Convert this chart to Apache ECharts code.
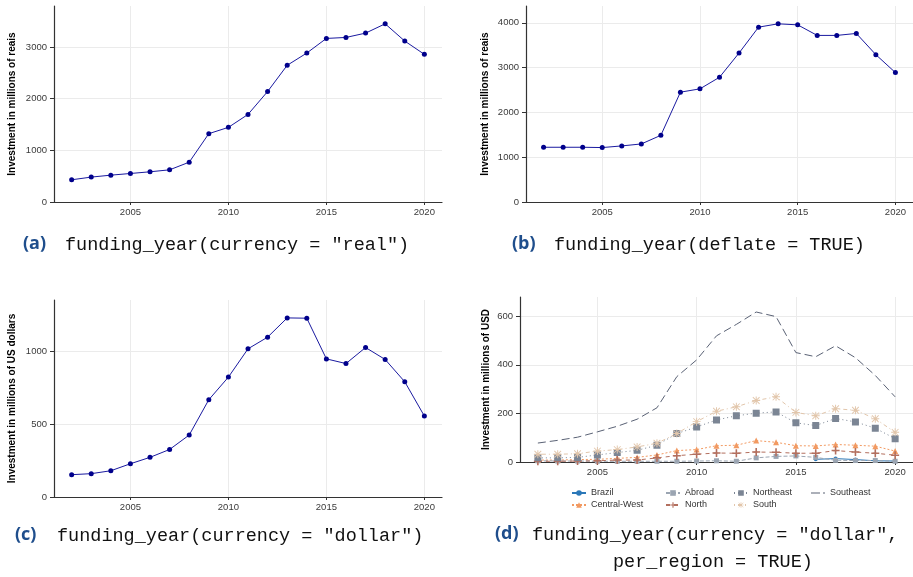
<!DOCTYPE html>
<html>
<head>
<meta charset="utf-8">
<script src="https://cdn.jsdelivr.net/npm/echarts@6/dist/echarts.min.js"></script>
<style>
  html, body { margin: 0; padding: 0; background: #ffffff; }
  #chart { width: 913px; height: 577px; }
</style>
</head>
<body>
<div id="chart"></div>
<script>
// ---- data ----
const years = [2002, 2003, 2004, 2005, 2006, 2007, 2008, 2009, 2010, 2011,
               2012, 2013, 2014, 2015, 2016, 2017, 2018, 2019, 2020];

// (a) nominal, millions of reais
const realReais = [430, 482, 520, 552, 585, 623, 771, 1323, 1445, 1696,
                   2139, 2647, 2884, 3167, 3186, 3270, 3450, 3116, 2859];
// (b) deflated, millions of reais
const deflatedReais = [1222, 1222, 1222, 1215, 1252, 1296, 1489, 2452, 2526, 2785,
                       3326, 3904, 3978, 3955, 3719, 3719, 3763, 3289, 2889];
// (c) millions of US dollars
const dollars = [153, 160, 180, 228, 272, 326, 425, 667, 822, 1016,
                 1096, 1228, 1226, 947, 915, 1025, 943, 790, 555];

// (d) millions of USD per region
const brazil      = [null, null, null, null, null, null, null, null, null, null,
                     null, null, null, null, 11, 14, 10, 5, 4];
const centralWest = [8, 8, 10, 11, 15, 19, 29, 47, 51, 67, 69, 88, 81, 67, 66, 72, 69, 65, 45];
const abroad      = [5, 4, 4, 3, 3, 3, 3, 3, 4, 5, 3, 17, 23, 25, 19, 7, 6, 6, 3];
const north       = [3, 3, 4, 5, 8, 8, 17, 26, 32, 37, 36, 41, 40, 36, 36, 47, 41, 36, 28];
const northeast   = [17, 17, 19, 29, 39, 48, 69, 117, 144, 173, 190, 201, 206, 161, 150, 179, 165, 139, 96];
const south       = [32, 32, 34, 45, 51, 62, 77, 117, 166, 209, 227, 253, 268, 204, 190, 219, 213, 178, 122];
const southeast   = [78, 89, 102, 124, 147, 176, 223, 351, 420, 519, 566, 617, 598, 450, 433, 478, 429, 356, 268];

// tick labels
const xTicks = [2005, 2010, 2015, 2020];
const yTicksA = [0, 1000, 2000, 3000];
const yTicksB = [0, 1000, 2000, 3000, 4000];
const yTicksC = [0, 500, 1000];
const yTicksD = [0, 200, 400, 600];

// ---- helpers ----
const pairs = vals => years.map((y, i) => [y, vals[i]]);
const axisColor = '#333333';
const gridColor = '#ebebeb';
const tickTextColor = '#3a3a3a';
const labelFont = 'Liberation Sans, Arial, sans-serif';
const plain = v => String(v);

function xAxisFor(gridIndex) {
  return {
    type: 'value', gridIndex, min: 2001.1, max: 2020.9,
    axisLine: { show: true, onZero: false, lineStyle: { color: axisColor, width: 1.2 } },
    axisTick: { show: true, length: 3, customValues: xTicks, lineStyle: { color: axisColor } },
    axisLabel: { customValues: xTicks, formatter: plain, fontSize: 9.5, color: tickTextColor, margin: 5, fontFamily: labelFont },
    splitLine: { show: true, lineStyle: { color: gridColor, width: 1 } }
  };
}

function yAxisFor(gridIndex, ticks, name, nameGap) {
  return {
    type: 'value', gridIndex, min: 0, max: v => v.max * 1.1,
    name, nameLocation: 'middle', nameGap,
    nameTextStyle: { fontSize: 10, fontWeight: 'bold', color: '#000', fontFamily: labelFont },
    axisLine: { show: true, onZero: false, lineStyle: { color: axisColor, width: 1.2 } },
    axisTick: { show: true, length: 4, customValues: ticks, lineStyle: { color: axisColor } },
    axisLabel: { customValues: ticks, formatter: plain, fontSize: 9.5, color: tickTextColor, margin: 7, fontFamily: labelFont },
    splitLine: { show: true, lineStyle: { color: gridColor, width: 1 } }
  };
}

function totalSeries(idx, vals) {
  return {
    type: 'line', xAxisIndex: idx, yAxisIndex: idx, data: pairs(vals),
    symbol: 'circle', symbolSize: 5, showSymbol: true,
    lineStyle: { color: '#1a1aa0', width: 1 },
    itemStyle: { color: '#00008b' },
    emphasis: { disabled: true }, animation: false
  };
}

const plusPath = 'path://M4,0H6V4H10V6H6V10H4V6H0V4H4Z';
const squareCrossPath = 'path://M0,0H10V10H0Z M1.2,2.1L2.1,1.2L5,4.1L7.9,1.2L8.8,2.1L5.9,5L8.8,7.9L7.9,8.8L5,5.9L2.1,8.8L1.2,7.9L4.1,5Z';
const asteriskPath = 'path://M4.4,0H5.6V10H4.4Z M0,4.4H10V5.6H0Z M1.2,0.4L9.6,8.8L8.8,9.6L0.4,1.2Z M8.8,0.4L9.6,1.2L1.2,9.6L0.4,8.8Z';
// legend key for the unmarked long-dash line: a long dash followed by a short one
const longDashKey = 'path://M0,3H9V4H0Z M12,3H14V4H12Z';

const regionDefs = [
  { name: 'Brazil',       vals: brazil,      color: '#2b78b8', dash: 'solid',       symbol: 'circle',        size: 4 },
  { name: 'Central-West', vals: centralWest, color: '#f29a62', dash: [2, 2],        symbol: 'triangle',      size: 6 },
  { name: 'Abroad',       vals: abroad,      color: '#9ba5b2', dash: [4, 2],        symbol: 'rect',          size: 5 },
  { name: 'North',        vals: north,       color: '#b36f5e', dash: [4, 4],        symbol: plusPath,        size: 8 },
  { name: 'Northeast',    vals: northeast,   color: '#7b8594', dash: [1, 3],        symbol: squareCrossPath, size: 7 },
  { name: 'South',        vals: south,       color: '#e2c6ab', dash: [1, 3, 4, 3],  symbol: asteriskPath,    size: 8 },
  { name: 'Southeast',    vals: southeast,   color: '#5a6275', dash: [8, 4],        symbol: 'none',          size: 0 }
];

const regionSeries = regionDefs.map(d => ({
  name: d.name, type: 'line', xAxisIndex: 3, yAxisIndex: 3, data: pairs(d.vals),
  symbol: d.symbol, symbolSize: d.size, showSymbol: d.symbol !== 'none',
  connectNulls: false,
  lineStyle: { color: d.color, width: 1, type: d.dash },
  itemStyle: { color: d.color },
  emphasis: { disabled: true }, animation: false
}));

// legend positions: two rows, four columns
const legendSlots = [
  { name: 'Brazil',       x: 571, y: 493 },
  { name: 'Abroad',       x: 665, y: 493 },
  { name: 'Northeast',    x: 733, y: 493 },
  { name: 'Southeast',    x: 811, y: 493, icon: longDashKey },
  { name: 'Central-West', x: 571, y: 505 },
  { name: 'North',        x: 665, y: 505 },
  { name: 'South',        x: 733, y: 505 }
];

const legends = legendSlots.map(s => ({
  data: [s.icon ? { name: s.name, icon: s.icon } : s.name],
  left: s.x, top: s.y - 6, padding: 0,
  itemWidth: 14, itemHeight: 7, itemGap: 0,
  selectedMode: false,
  textStyle: { fontSize: 9, color: '#333', lineHeight: 12, fontFamily: labelFont }
}));

// captions
const capLabelStyle = { fontSize: 18, fontWeight: 'bold', fill: '#1f4e8c', fontFamily: 'Open Sans, Noto Sans, sans-serif' };
const capMonoStyle = { fontSize: 18.5, fill: '#111', fontFamily: 'Liberation Mono, monospace' };
function caption(label, lines, x, y, monoX) {
  const els = [{
    type: 'text', left: x, top: y - 12,
    style: Object.assign({ text: label }, capLabelStyle)
  }];
  lines.forEach((ln, i) => {
    els.push({
      type: 'text', left: ln.x !== undefined ? ln.x : monoX, top: y - 11 + i * 26.5,
      style: Object.assign({ text: ln.t }, capMonoStyle)
    });
  });
  return els;
}

const graphics = [].concat(
  caption('(a)', [{ t: 'funding_year(currency = "real")' }], 23, 247, 65),
  caption('(b)', [{ t: 'funding_year(deflate = TRUE)' }], 512, 247, 554),
  caption('(c)', [{ t: 'funding_year(currency = "dollar")' }], 15, 538, 57),
  caption('(d)', [{ t: 'funding_year(currency = "dollar",' }, { t: 'per_region = TRUE)', x: 613 }], 495, 537, 532)
);

const option = {
  backgroundColor: '#ffffff',
  animation: false,
  grid: [
    { left: 54,  top: 6,   width: 388, height: 196 },
    { left: 526, top: 6,   width: 387, height: 196 },
    { left: 54,  top: 300, width: 388, height: 197 },
    { left: 520, top: 297, width: 393, height: 165 }
  ],
  xAxis: [xAxisFor(0), xAxisFor(1), xAxisFor(2), xAxisFor(3)],
  yAxis: [
    yAxisFor(0, yTicksA, 'Investment in millions of reais', 37),
    yAxisFor(1, yTicksB, 'Investment in millions of reais', 36),
    yAxisFor(2, yTicksC, 'Investment in millions of US dollars', 37),
    yAxisFor(3, yTicksD, 'Investment in millions of USD', 29)
  ],
  legend: legends,
  series: [
    totalSeries(0, realReais),
    totalSeries(1, deflatedReais),
    totalSeries(2, dollars)
  ].concat(regionSeries),
  graphic: graphics
};

const chart = echarts.init(document.getElementById('chart'), null, { renderer: 'canvas' });
chart.setOption(option);
</script>
</body>
</html>
